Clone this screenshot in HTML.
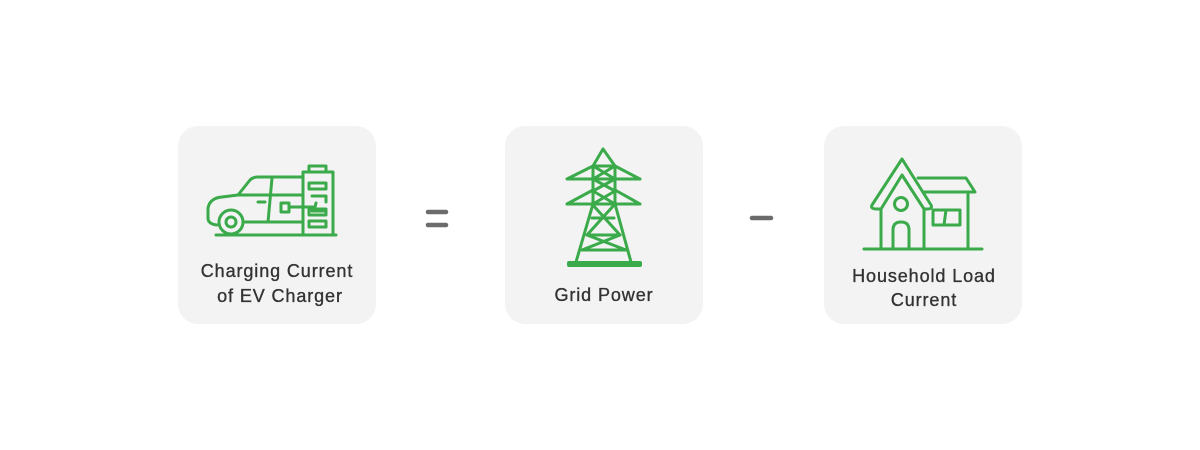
<!DOCTYPE html>
<html><head><style>
body{margin:0;background:#fff;}
svg{display:block}
text{font-family:"Liberation Sans",sans-serif;font-size:18px;fill:#333;stroke:#333;stroke-width:0.35;text-anchor:middle;letter-spacing:0.9px}
</style></head><body>
<svg width="1200" height="450" viewBox="0 0 1200 450">
<rect x="178" y="126" width="198" height="198" rx="20" fill="#f3f3f3"/>
<rect x="505" y="126" width="198" height="198" rx="20" fill="#f3f3f3"/>
<rect x="824" y="126" width="198" height="198" rx="20" fill="#f3f3f3"/>
<g stroke="#6b6b6b" stroke-width="4.5" stroke-linecap="round">
<line x1="428" y1="212" x2="446" y2="212"/><line x1="428" y1="225" x2="446" y2="225"/>
<line x1="752" y1="218" x2="771" y2="218"/>
</g>
<g fill="none" stroke="#3aaa4a" stroke-width="3" stroke-linejoin="round" stroke-linecap="round">
<line x1="216" y1="235" x2="336" y2="235"/>
<circle cx="231" cy="222" r="12"/><circle cx="231" cy="222" r="5"/>
<path d="M217 225 Q208 224 208 218 L208 208 Q210 198 222 197 L238 195 L250 180 Q253 177 258 177 L303 177"/>
<path d="M245 222 L303 222"/>
<path d="M238 195 L303 195"/>
<path d="M272 178 L268 222"/>
<line x1="258" y1="202" x2="265" y2="202"/>
<rect x="303" y="172" width="30" height="63"/>
<path d="M309 172 L309 166 L326 166 L326 172"/>
<rect x="309" y="183" width="17" height="6"/>
<rect x="309" y="209" width="17" height="6"/>
<rect x="309" y="221" width="17" height="6"/>
<path d="M312 196 L326 196 L326 202"/>
<rect x="281" y="203" width="8" height="9"/>
<path d="M289 207 L315 207 L316 203"/>
<path d="M315 207 L312 211 L326 211"/>
<path d="M603 149 L593 166 L615 166 Z"/>
<path d="M593 166 L593 203 M615 166 L615 203"/>
<path d="M567 179 L593 166 M640 179 L615 166 M567 179 L640 179"/>
<path d="M567 204 L593 190 M640 204 L615 190 M567 204 L640 204"/>
<path d="M593 166 L615 179 M615 166 L593 179 M593 179 L615 191 M615 179 L593 191 M593 191 L615 204 M615 191 L593 204"/>
<path d="M593 204 L576 262 M615 204 L631 262"/>
<path d="M592 218 L614 218 M587 235 L620 235 M582 250 L626 250"/>
<path d="M592 204 L620 235 M615 204 L587 235 M587 235 L626 250 M620 235 L582 250"/>
<line x1="864" y1="249" x2="982" y2="249"/>
<path d="M872 205 L902 159 L931 205 Q933 209 927 209 L924 209 L902 175 L881 209 L877 209 Q870 209 872 205 Z"/>
<path d="M881 209 L881 249 M924 209 L924 249"/>
<circle cx="901" cy="204" r="6.5"/>
<path d="M893 249 L893 230 Q893 222 901 222 Q909 222 909 230 L909 249"/>
<path d="M918 178 L966 178 L975 192 L924 192"/>
<path d="M968 192 L968 249"/>
<rect x="933" y="210" width="27" height="15"/>
<line x1="946" y1="210" x2="944" y2="225"/>
</g>
<rect x="567" y="261" width="75" height="6" rx="2" fill="#3aaa4a"/>
<text x="277" y="277">Charging Current</text>
<text x="280" y="302">of EV Charger</text>
<text x="604" y="301">Grid Power</text>
<text x="924" y="282">Household Load</text>
<text x="924" y="306">Current</text>
</svg>
</body></html>
